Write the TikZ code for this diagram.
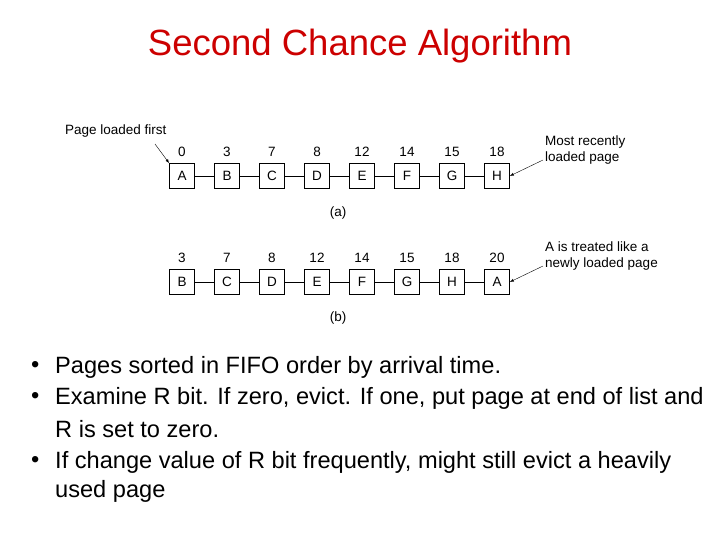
\documentclass[tikz,border=0pt]{standalone}
\usepackage{fontspec}
\setmainfont{Liberation Sans}
\begin{document}
\begin{tikzpicture}[x=1pt,y=-1pt,
  pg/.style={draw,semithick,minimum size=25pt,inner sep=0pt,font=\fontsize{13.5}{16}\selectfont},
  num/.style={font=\fontsize{13.5}{16}\selectfont},
  lab/.style={font=\fontsize{13.5}{16}\selectfont,align=left,anchor=west,inner sep=0pt},
  bul/.style={font=\fontsize{23.6}{28}\selectfont,anchor=west,inner sep=0pt},
  arr/.style={-latex,thin}]
\useasboundingbox (0,0) rectangle (720,540);
\node[font=\fontsize{36.5}{42}\selectfont,text={rgb,255:red,204;green,0;blue,0}] (title) at (360,46) {Second Chance Algorithm};
\foreach \l/\n [count=\i] in {A/0,B/3,C/7,D/8,E/12,F/14,G/15,H/18}{
  \node[pg] (t\i) at ({137+45*\i},176) {\l};
  \node[num] (tn\i) at ({137+45*\i},152) {\n};
}
\foreach \i [evaluate=\i as \j using int(\i+1)] in {1,...,7}{\draw (t\i) -- (t\j);}
\foreach \l/\n [count=\i] in {B/3,C/7,D/8,E/12,F/14,G/15,H/18,A/20}{
  \node[pg] (b\i) at ({137+45*\i},282) {\l};
  \node[num] (bn\i) at ({137+45*\i},258) {\n};
}
\foreach \i [evaluate=\i as \j using int(\i+1)] in {1,...,7}{\draw (b\i) -- (b\j);}
\node[num] (la) at (338,213) {(a)};
\node[num] (lb) at (338,318) {(b)};
\node[lab] (plf) at (65,131) {Page loaded first};
\node[lab] (mr) at (545,150) {Most recently\\loaded page};
\node[lab] (tr) at (545,256) {A is treated like a\\newly loaded page};
\coordinate (c1) at (155,144);
\coordinate (c2) at (543,160);
\coordinate (c3) at (543,266);
\draw[arr] (c1) -- (t1.north west);
\draw[arr] (c2) -- (t8.east);
\draw[arr] (c3) -- (b8.east);
\node[bul] (d1) at (31,367) {•};
\node[bul] (d2) at (31,398) {•};
\node[bul] (d3) at (31,462) {•};
\node[bul] (s1) at (55,367) {Pages sorted in FIFO order by arrival time.};
\node[bul] (s2) at (55,398) {Examine R bit. If zero, evict. If one, put page at end of list and};
\node[bul] (s2b) at (55,429) {R is set to zero.};
\node[bul] (s3) at (55,462) {If change value of R bit frequently, might still evict a heavily};
\node[bul] (s3b) at (55,491) {used page};
\end{tikzpicture}
\end{document}
